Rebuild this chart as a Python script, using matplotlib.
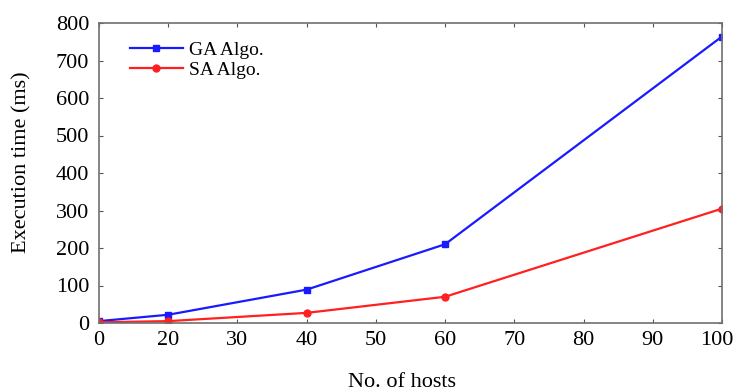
import matplotlib
matplotlib.use("Agg")
import matplotlib.pyplot as plt
from matplotlib.transforms import ScaledTranslation

hosts = [0, 20, 40, 60, 100]
ga_time = [5, 22, 89, 210, 764]
sa_time = [2, 5, 27, 70, 305]
xticks = [0, 20, 30, 40, 50, 60, 70, 80, 90, 100]
yticks = [0, 100, 200, 300, 400, 500, 600, 700, 800]

# the x axis places the tick labels evenly (ordinal positions)
xpos = [xticks.index(h) for h in hosts]

plt.rcParams['font.family'] = ['Liberation Serif', 'DejaVu Serif']

fig = plt.figure(figsize=(7.36, 3.92), dpi=100)
ax = fig.add_axes([99/736, 1-323/392, (722-99)/736, (323-23)/392])

ax.plot(xpos, ga_time, color='#1a1aff', lw=1.6, marker='s', ms=5, label='GA Algo.')
ax.plot(xpos, sa_time, color='#ff2020', lw=1.6, marker='o', ms=5, label='SA Algo.')

ax.set_xlim(0, len(xticks) - 1)
ax.set_ylim(0, 800)
ax.set_xticks(range(len(xticks)))
ax.set_xticklabels([str(t) for t in xticks])
ax.set_yticks(yticks)
ax.tick_params(direction='in', length=3, width=0.8, color='#555555', labelsize=16,
               top=True, right=True)
ax.tick_params(axis='x', pad=6)
ax.tick_params(axis='y', pad=7)
for s in ax.spines.values():
    s.set_color('#707070')
    s.set_linewidth(1.2)

# nudge last x tick label left so it stays inside the figure
last = ax.get_xticklabels()[-1]
last.set_transform(last.get_transform() + ScaledTranslation(-5/100, 0, fig.dpi_scale_trans))

ax.set_xlabel('No. of hosts', fontsize=16)
ax.xaxis.set_label_coords(0.486, -0.168)
ax.set_ylabel('Execution time (ms)', fontsize=16)
ax.yaxis.set_label_coords(-0.109, 0.537)

ax.legend(loc='upper left', bbox_to_anchor=(0.022, 0.998), frameon=False, fontsize=14,
          handlelength=2.7, labelspacing=0.15, handletextpad=0.3)

fig.savefig('out.png', dpi=100)
